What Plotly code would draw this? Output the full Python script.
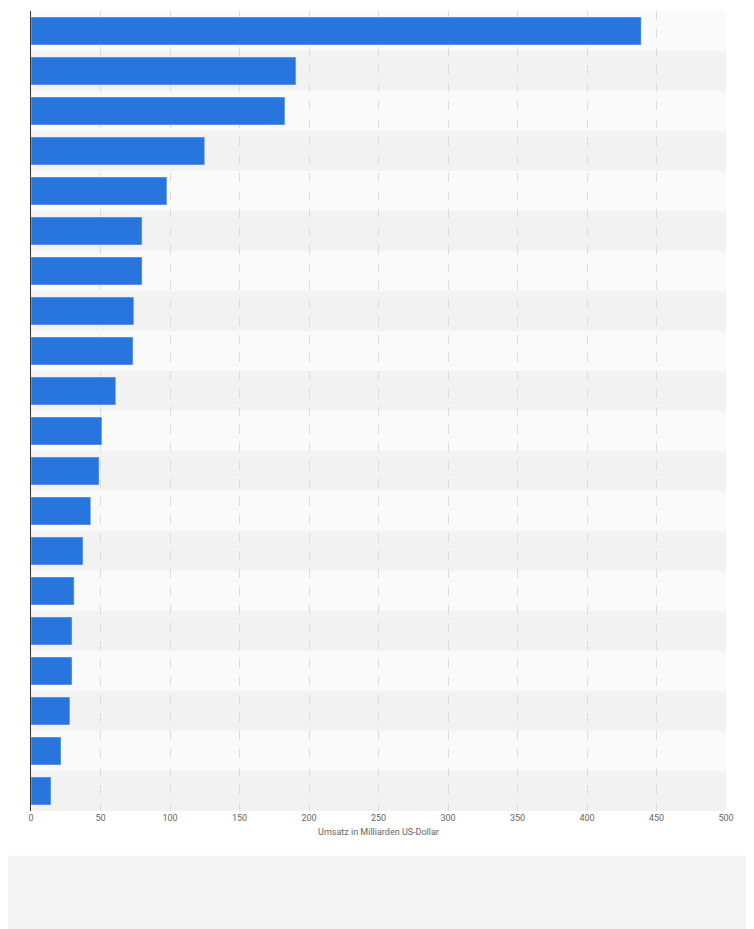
import plotly.graph_objects as go

ranks = list(range(1, 21))
values = [439, 190.6, 182.7, 125, 97.8, 79.9, 79.9, 74, 73.4, 61, 51, 49, 43, 37.4, 31, 29.5, 29.5, 28, 21.6, 14.4]
xticks = [0, 50, 100, 150, 200, 250, 300, 350, 400, 450, 500]

fig = go.Figure(go.Bar(x=values, y=ranks, orientation="h", marker_color="#2876dd", width=0.7))

shapes = []
for r in ranks:
    shapes.append(dict(type="rect", xref="paper", yref="y", x0=0, x1=1, y0=r - 0.5, y1=r + 0.5,
                       fillcolor="#fafafa" if r % 2 else "#f2f2f2", line_width=0, layer="below"))
shapes.append(dict(type="rect", xref="paper", yref="paper", x0=-0.1, x1=1.1, y0=-0.056, y1=-0.25,
                   fillcolor="#f4f4f4", line_width=0, layer="below"))
fig.update_layout(
    width=754, height=929, margin=dict(l=23, r=36, t=3, b=126),
    paper_bgcolor="white", plot_bgcolor="rgba(0,0,0,0)", shapes=shapes, showlegend=False,
    font=dict(family="Roboto, Arial", color="#666", size=9),
    xaxis=dict(range=[0, 500], tickvals=xticks, showgrid=True, gridcolor="#dcdcdc", griddash="dash",
               zeroline=False, title=dict(text="Umsatz in Milliarden US-Dollar", font=dict(size=9), standoff=6), ticks=""),
    yaxis=dict(range=[20.5, 0.5], showticklabels=False, showgrid=False, zeroline=False,
               showline=True, linecolor="#333", linewidth=1),
)
fig.write_html("out.html")
